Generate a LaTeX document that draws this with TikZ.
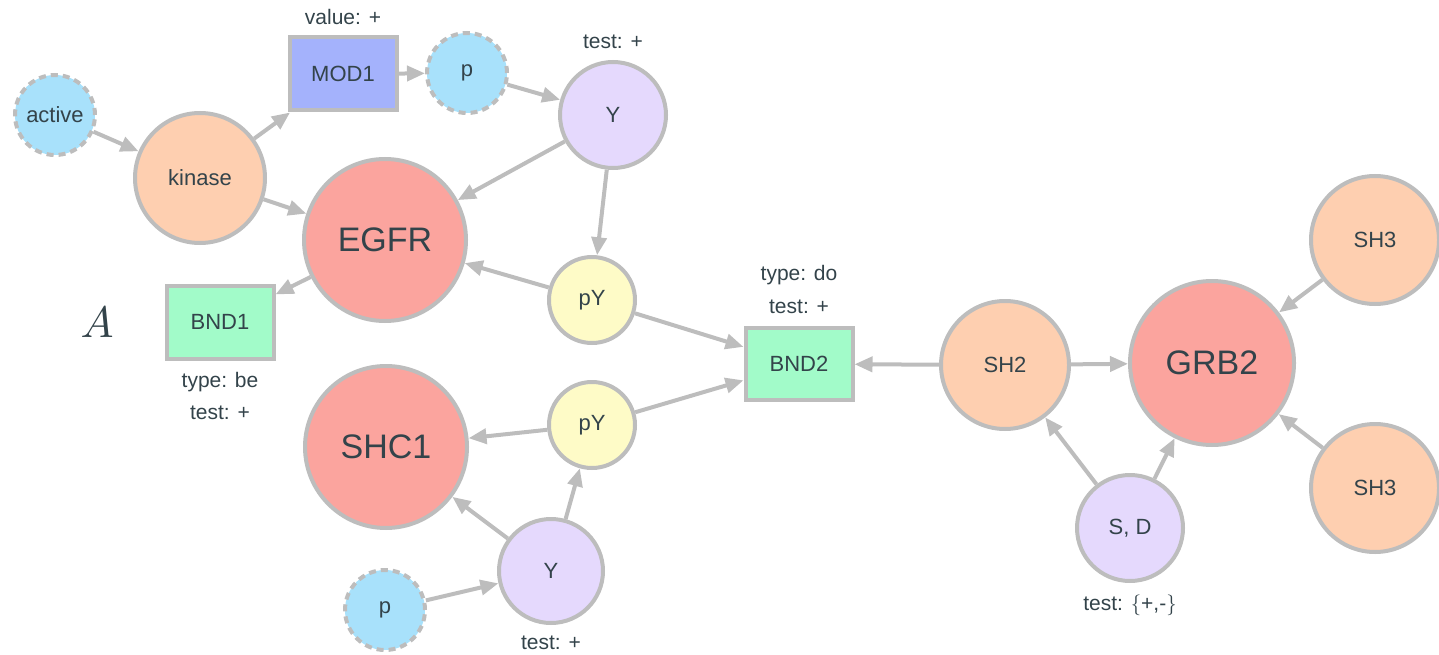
\documentclass[tikz,border=0pt]{standalone}
\usepackage{fontspec}
\setmainfont{Liberation Sans}
\usetikzlibrary{arrows.meta}

\definecolor{linegray}{HTML}{BDBDBD}
\definecolor{ink}{HTML}{33434A}
\definecolor{siteblue}{HTML}{A8E1FB}
\definecolor{peach}{HTML}{FECFB0}
\definecolor{salmon}{HTML}{FBA49E}
\definecolor{lavender}{HTML}{E5D9FD}
\definecolor{paleyellow}{HTML}{FEFBC7}
\definecolor{mint}{HTML}{A2FBC9}
\definecolor{periwinkle}{HTML}{A4B2FC}

\tikzset{
  mol/.style={circle, draw=linegray, line width=4pt, inner sep=0pt, text=ink,
              font=\fontsize{22}{26}\selectfont},
  site/.style={mol, fill=siteblue, dash pattern=on 7pt off 5pt},
  agent/.style={mol, fill=salmon, font=\fontsize{34}{40}\selectfont},
  rulebox/.style={rectangle, draw=linegray, line width=4pt, inner sep=0pt, text=ink,
              minimum width=107pt, minimum height=73pt,
              font=\fontsize{22}{26}\selectfont},
  note/.style={text=ink, inner sep=0pt, font=\fontsize{21}{25}\selectfont},
  link/.style={draw=linegray, line width=4pt,
              -{Triangle[length=18pt,width=15pt]}},
}

\begin{document}
\begin{tikzpicture}[x=1pt, y=-1pt]
\useasboundingbox (0,0) rectangle (1439,655);

% EGFR side
\node[site, minimum size=80pt] (active) at (55,115) {active};
\node[mol, fill=peach, minimum size=130pt] (kinase) at (200,178) {kinase};
\node[rulebox, fill=periwinkle] (mod1) at (343,74) {MOD1};
\node[site, minimum size=80pt] (ptop) at (467,73) {p};
\node[mol, fill=lavender, minimum size=106pt] (ytop) at (613,115) {Y};
\node[agent, minimum size=162pt] (egfr) at (385,240) {EGFR};
\node[mol, fill=paleyellow, minimum size=86pt] (pytop) at (592,300) {pY};
\node[rulebox, fill=mint] (bnd1) at (220,322) {BND1};
\node[scale=4.4, text=ink] (alabel) at (97,322) {$A$};

% SHC1 side
\node[agent, minimum size=162pt] (shc1) at (386,447) {SHC1};
\node[mol, fill=paleyellow, minimum size=86pt] (pybot) at (592,425) {pY};
\node[mol, fill=lavender, minimum size=104pt] (ybot) at (551,571) {Y};
\node[site, minimum size=80pt] (pbot) at (385,610) {p};

% binding rule
\node[rulebox, fill=mint, minimum height=72pt] (bnd2) at (799,364) {BND2};

% GRB2 side
\node[mol, fill=peach, minimum size=128pt] (sh2) at (1005,365) {SH2};
\node[agent, minimum size=164pt] (grb2) at (1212,363) {GRB2};
\node[mol, fill=peach, minimum size=128pt] (sh3a) at (1375,240) {SH3};
\node[mol, fill=peach, minimum size=128pt] (sh3b) at (1375,488) {SH3};
\node[mol, fill=lavender, minimum size=106pt] (sd) at (1130,528) {S, D};

% annotations
\node[note] (nmod1) at (343,17) {value: +};
\node[note] (nytop) at (613,42) {test: +};
\node[note] (nbnd1a) at (220,382) {type: be};
\node[note] (nbnd1b) at (220,413) {test: +};
\node[note] (nbnd2a) at (799,275) {type: do};
\node[note] (nbnd2b) at (799,307) {test: +};
\node[note] (nybot) at (551,643) {test: +};
\node[note] (nsd) at (1130,605) {test: \(\{\)+,-\(\}\)};

% connectors
\draw[link] (active) -- (kinase);
\draw[link] (kinase) -- (mod1);
\draw[link] (kinase) -- (egfr);
\draw[link] (mod1) -- (ptop);
\draw[link] (ptop) -- (ytop);
\draw[link] (ytop) -- (egfr);
\draw[link] (ytop) -- (pytop);
\draw[link] (pytop) -- (egfr);
\draw[link] (egfr) -- (bnd1);
\draw[link] (pytop) -- (bnd2);
\draw[link] (pybot) -- (bnd2);
\draw[link] (pybot) -- (shc1);
\draw[link] (ybot) -- (shc1);
\draw[link] (ybot) -- (pybot);
\draw[link] (pbot) -- (ybot);
\draw[link] (sh2) -- (bnd2);
\draw[link] (sh2) -- (grb2);
\draw[link] (sh3a) -- (grb2);
\draw[link] (sh3b) -- (grb2);
\draw[link] (sd) -- (sh2);
\draw[link] (sd) -- (grb2);
\end{tikzpicture}
\end{document}
